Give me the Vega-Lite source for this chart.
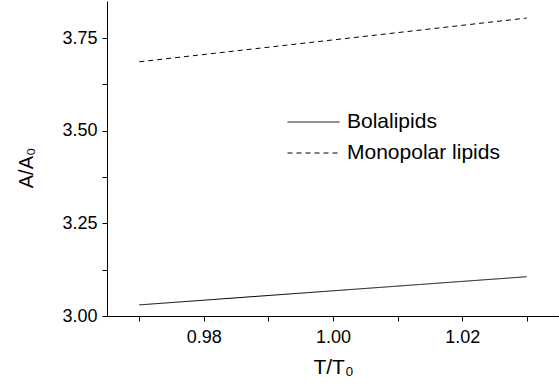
{
  "$schema": "https://vega.github.io/schema/vega-lite/v6.json",
  "width": 452,
  "height": 315,
  "autosize": {"type": "none"},
  "padding": {"left": 107, "top": 1, "right": 0, "bottom": 74},
  "background": "white",
  "config": {
    "view": {"stroke": null},
    "font": "Liberation Sans",
    "axis": {"grid": false, "domainColor": "black", "tickColor": "black", "labelColor": "black", "titleColor": "black", "titleFontWeight": "normal", "labelFont": "Liberation Sans", "titleFont": "Liberation Sans"}
  },
  "data": {
    "values": [
      {"t": 0.97, "a": 3.030, "series": "Bolalipids"},
      {"t": 1.03, "a": 3.106, "series": "Bolalipids"},
      {"t": 0.97, "a": 3.686, "series": "Monopolar lipids"},
      {"t": 1.03, "a": 3.804, "series": "Monopolar lipids"}
    ]
  },
  "mark": {"type": "line", "color": "black", "strokeWidth": 1},
  "encoding": {
    "x": {
      "field": "t", "type": "quantitative",
      "scale": {"domain": [0.965, 1.035], "nice": false, "zero": false},
      "axis": {
        "title": "T/T₀", "titleFontSize": 21, "titleX": 226, "titleY": 57.5, "titleBaseline": "alphabetic",
        "values": [0.97, 0.98, 0.99, 1.0, 1.01, 1.02, 1.03],
        "labelExpr": "round(datum.value * 100) % 2 == 0 ? format(datum.value, '.2f') : ''",
        "labelFontSize": 18, "labelPadding": 7,
        "tickSize": 5, "labelFlush": false, "labelOverlap": false
      }
    },
    "y": {
      "field": "a", "type": "quantitative",
      "scale": {"domain": [3.0, 3.85], "nice": false, "zero": false},
      "axis": {
        "title": "A/A₀", "titleFontSize": 20, "titleAngle": -90, "titleX": -75, "titleY": 166.5, "titleBaseline": "alphabetic", "titleAlign": "center",
        "values": [3.0, 3.125, 3.25, 3.375, 3.5, 3.625, 3.75],
        "labelExpr": "round(datum.value * 100) % 25 == 0 ? format(datum.value, '.2f') : ''",
        "labelFontSize": 18, "labelPadding": 5,
        "tickSize": 5, "labelFlush": false, "labelOverlap": false
      }
    },
    "strokeDash": {
      "field": "series", "type": "nominal",
      "scale": {"domain": ["Bolalipids", "Monopolar lipids"], "range": [[1, 0], [5, 4]]},
      "legend": {
        "title": null, "orient": "none", "legendX": 196, "legendY": 110.5,
        "symbolType": "M-4,0H4", "symbolSize": 169, "symbolStrokeWidth": 1, "symbolStrokeColor": "black", "symbolFillColor": "transparent",
        "labelFontSize": 21, "labelColor": "black", "labelFont": "Liberation Sans", "rowPadding": 9, "labelOffset": 23
      }
    }
  }
}
